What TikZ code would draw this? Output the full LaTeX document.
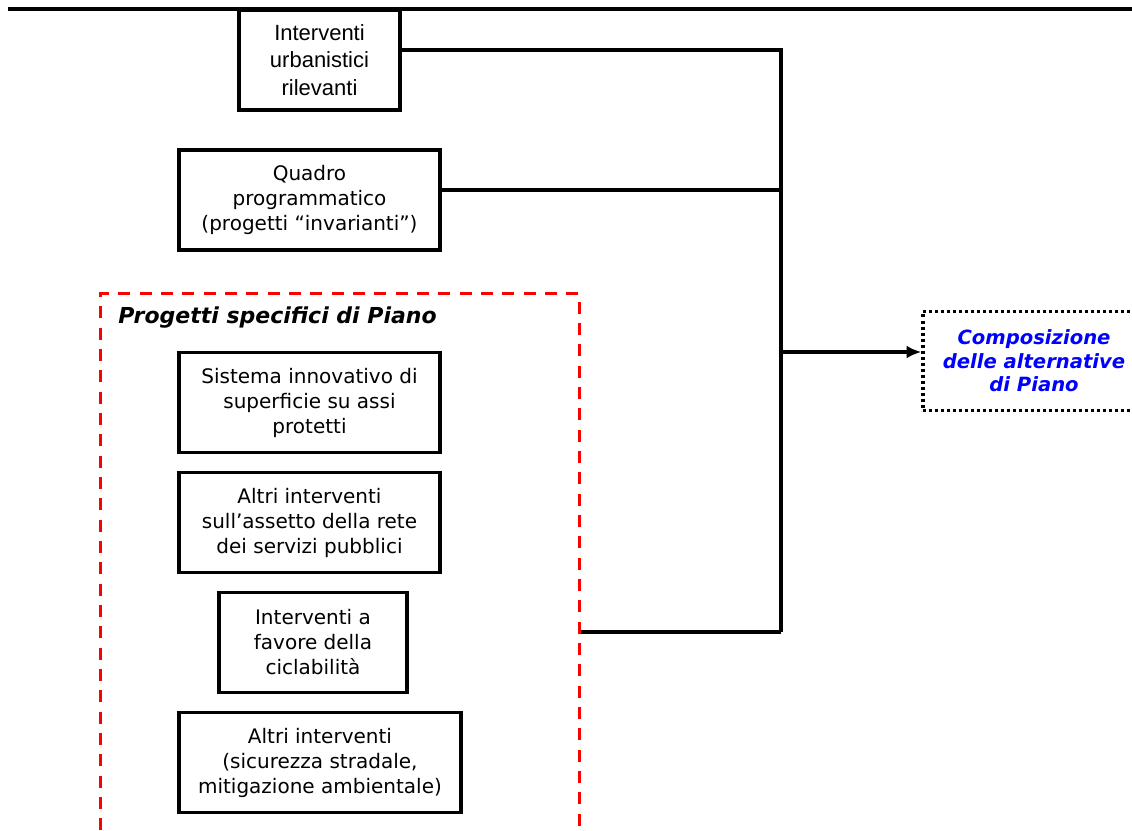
\documentclass[tikz,border=0pt]{standalone}
\usepackage{fontspec}
\setmainfont{DejaVu Sans}
\newfontfamily\arialfont{Liberation Sans}
\usetikzlibrary{positioning, arrows.meta}
\definecolor{planred}{HTML}{FF0000}
\definecolor{planblue}{HTML}{0000FF}

\begin{document}
\begin{tikzpicture}[
    x=0.75pt, y=-0.75pt,
    node distance=90pt,
    box/.style={draw, line width=2.4pt, minimum width=195.75pt, minimum height=75pt, inner sep=0pt, align=center, font=\fontsize{15}{18.75}\selectfont},
    link/.style={line width=2.4pt},
    arrow/.style={link, -{Latex[length=11pt,width=9.5pt]}}
  ]
    \clip (0,0) rectangle (1132,831);

    % top rule
    \draw[line width=2.4pt] (8,9) -- (1132,9);

    % Inputs
    \node[box, minimum width=120.75pt, font=\arialfont\fontsize{16.5}{20.5}\selectfont] (urban) at (319.5,60) {Interventi\\urbanistici\\rilevanti};
    \node[box, below of=urban, xshift=-7.5pt, yshift=-15pt] (quadro) {Quadro\\programmatico\\(progetti “invarianti”)};

    % Progetti specifici di Piano — red dashed group
    \node[draw=planred, line width=2.4pt, dash pattern=on 9pt off 7pt, minimum width=359.25pt, minimum height=439.9pt, inner sep=0pt] (group) at (340,586.75) {};
    \node[anchor=west, inner sep=0pt, font=\fontsize{16.5}{18}\selectfont\bfseries\itshape] (grouplabel) at (118,318) {Progetti specifici di Piano};

    \node[box] (sistema) at (309.5,402.5) {Sistema innovativo di\\superficie su assi\\protetti};
    \node[box, below of=sistema] (rete) {Altri interventi\\sull’assetto della rete\\dei servizi pubblici};
    \node[box, below of=rete, xshift=2.6pt, minimum width=141pt] (cicla) {Interventi a\\favore della\\ciclabilità};
    \node[box, below of=cicla, xshift=5.25pt, minimum width=211.5pt] (altri) {Altri interventi\\(sicurezza stradale,\\mitigazione ambientale)};

    % Output — blue on dotted frame
    \node[draw, line width=2.4pt, dash pattern=on 2.25pt off 2.25pt, minimum width=166.5pt, minimum height=74.25pt, inner sep=0pt, align=center, text=planblue, font=\fontsize{14.7}{17.5}\selectfont\bfseries\itshape] (comp) at (1034,361) {Composizione\\delle alternative\\di Piano};

    \coordinate (bus) at (781,632);

    \draw[link] ([yshift=7.5pt]urban.east) -| (bus);
    \draw[link] ([yshift=7.5pt]quadro.east) -- ([yshift=7.5pt]quadro.east -| bus);
    \draw[link] (group.east |- bus) -- (bus);
    \draw[arrow] ([yshift=6.75pt]comp.west -| bus) -- ([yshift=6.75pt]comp.west);
  \end{tikzpicture}
\end{document}
